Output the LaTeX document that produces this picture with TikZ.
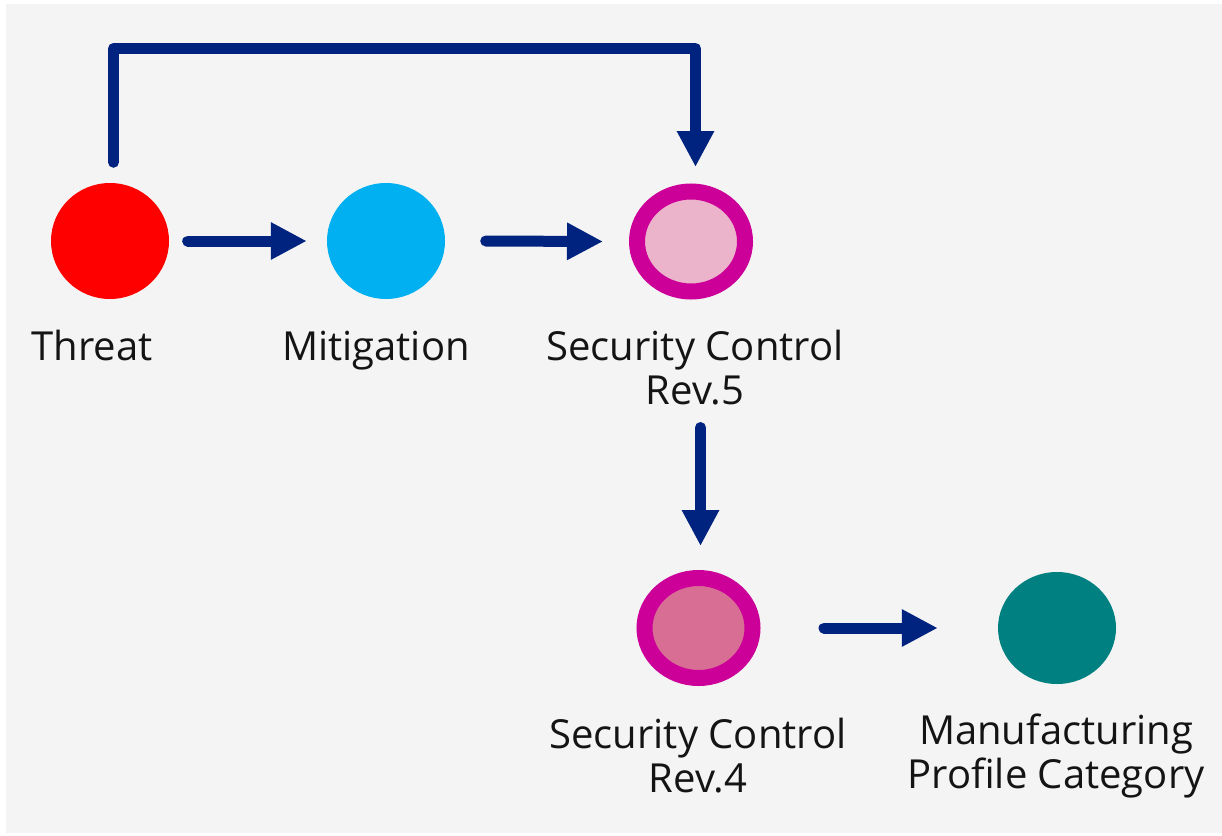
\documentclass[tikz,border=0pt]{standalone}
\usepackage{fontspec}
\setmainfont{Open Sans}
\usetikzlibrary{arrows.meta,shapes.geometric}
\definecolor{bg}{HTML}{F4F4F4}
\definecolor{navy}{HTML}{00237F}
\definecolor{tred}{HTML}{FF0000}
\definecolor{mblue}{HTML}{00B0F0}
\definecolor{ring}{HTML}{CC0099}
\definecolor{pinkA}{HTML}{ECB4CA}
\definecolor{pinkB}{HTML}{D86E94}
\definecolor{teal}{HTML}{008080}
\tikzset{
  dot/.style={ellipse, inner sep=0pt, minimum width=118pt, minimum height=116pt},
  ringdot/.style={ellipse, inner sep=0pt, draw=ring, line width=16pt, minimum width=108pt, minimum height=100pt},
  lbl/.style={font=\fontsize{40}{44}\selectfont, align=center, inner sep=0pt, anchor=base, text=black!92},
  conn/.style={draw=navy, line width=11pt, line cap=round, line join=round, -{Triangle[length=36pt,width=35pt]}}
}
\begin{document}
\begin{tikzpicture}[x=1pt,y=-1pt]
\useasboundingbox (0,0) rectangle (1222,835);
\fill[bg] (6,4) rectangle (1222,833);
\node[dot, fill=tred] (t) at (110,241) {};
\node[dot, fill=mblue] (m) at (386,241) {};
\node[ringdot, fill=pinkA] (s5) at (691,241.5) {};
\node[ringdot, fill=pinkB] (s4) at (698.5,628) {};
\node[dot, fill=teal, minimum height=112pt] (mp) at (1057,628) {};
\node[lbl] (lt) at (92,360) {Threat};
\node[lbl] (lm) at (376,360) {Mitigation};
\node[lbl] (l5) at (695,404) {Security Control\\Rev.5};
\node[lbl] (l4) at (698,792) {Security Control\\Rev.4};
\node[lbl] (lmp) at (1056,788) {Manufacturing\\Profile Category};
\coordinate (tl) at (113.5,48.5);
\coordinate (tr) at (695.5,48.5);
\draw[conn] ([xshift=18.5pt]t.east) -- ([xshift=-20pt]m.west);
\draw[conn] ([xshift=40.5pt]m.east) -- ([xshift=-26pt]s5.west);
\draw[conn] ([xshift=3.5pt,yshift=20.5pt]t.north) -- (tl) -- (tr) -- ([xshift=4.5pt,yshift=16.5pt]s5.north);
\draw[conn] ([xshift=9.5pt,yshift=-128pt]s5.south) -- ([xshift=2pt,yshift=24pt]s4.north);
\draw[conn] ([xshift=63.5pt]s4.east) -- ([xshift=-60pt]mp.west);
\end{tikzpicture}
\end{document}
